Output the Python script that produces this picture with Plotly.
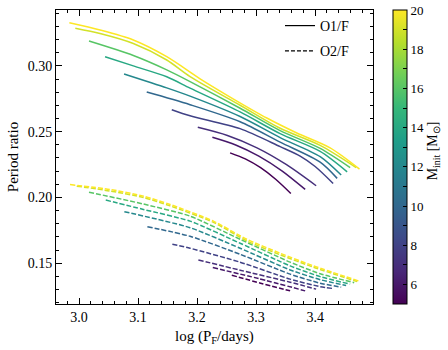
import plotly.graph_objects as go
from plotly.colors import sample_colorscale

# initial masses of the tracks (colour)
masses = [5, 6, 7, 8, 10, 12, 14, 16, 19, 20]

# O1/F period ratio against log P_F, one list per mass (same order as masses)
o1_logp = [
    [3.2559, 3.2817, 3.3076, 3.3331, 3.3588],
    [3.2259, 3.2654, 3.3046, 3.3437, 3.3831],
    [3.2012, 3.2514, 3.3015, 3.3515, 3.4017],
    [3.1571, 3.1881, 3.2729, 3.3407, 3.3746, 3.4000, 3.4305],
    [3.1147, 3.1881, 3.2729, 3.3407, 3.4085, 3.4373],
    [3.0763, 3.1486, 3.1881, 3.2729, 3.3407, 3.4085, 3.4441],
    [3.0441, 3.0920, 3.1486, 3.1881, 3.2729, 3.3407, 3.4085, 3.4542],
    [3.0169, 3.0920, 3.1486, 3.1881, 3.2729, 3.3407, 3.4085, 3.4593],
    [2.9937, 3.0356, 3.0920, 3.1486, 3.1881, 3.2729, 3.3407, 3.4085, 3.4695],
    [2.9836, 3.0356, 3.0920, 3.1486, 3.2051, 3.2610, 3.3181, 3.3690, 3.4254, 3.4751],
]
o1_ratio = [
    [0.2339, 0.2293, 0.2226, 0.2138, 0.2030],
    [0.2457, 0.2399, 0.2314, 0.2202, 0.2061],
    [0.2533, 0.2471, 0.2377, 0.2249, 0.2089],
    [0.2667, 0.2621, 0.2523, 0.2386, 0.2314, 0.2235, 0.2106],
    [0.2801, 0.2705, 0.2575, 0.2420, 0.2268, 0.2145],
    [0.2939, 0.2833, 0.2770, 0.2615, 0.2455, 0.2310, 0.2170],
    [0.3070, 0.3000, 0.2917, 0.2831, 0.2650, 0.2485, 0.2350, 0.2195],
    [0.3189, 0.3079, 0.2970, 0.2881, 0.2678, 0.2508, 0.2373, 0.2227],
    [0.3286, 0.3246, 0.3170, 0.3045, 0.2919, 0.2701, 0.2526, 0.2396, 0.2227],
    [0.3328, 0.3273, 0.3197, 0.3070, 0.2902, 0.2750, 0.2604, 0.2490, 0.2377, 0.2216],
]

# O2/F period ratio against log P_F
o2_logp = [
    [3.2588, 3.3076, 3.3576],
    [3.2266, 3.3046, 3.3831],
    [3.2022, 3.2729, 3.3576, 3.4017],
    [3.1581, 3.1881, 3.2729, 3.3576, 3.4085, 3.4300],
    [3.1158, 3.1881, 3.2729, 3.3576, 3.4085, 3.4441],
    [3.0768, 3.1881, 3.2729, 3.3576, 3.4085, 3.4525],
    [3.0453, 3.1090, 3.1881, 3.2729, 3.3576, 3.4085, 3.4593],
    [3.0169, 3.1090, 3.1881, 3.2729, 3.3576, 3.4085, 3.4661],
    [2.9961, 3.0525, 3.1090, 3.1542, 3.2276, 3.2842, 3.3407, 3.3971, 3.4712],
    [2.9847, 3.0525, 3.1090, 3.1542, 3.2276, 3.2842, 3.3407, 3.3971, 3.4746],
]
o2_ratio = [
    [0.1409, 0.1348, 0.1290],
    [0.1467, 0.1383, 0.1290],
    [0.1525, 0.1447, 0.1356, 0.1303],
    [0.1644, 0.1614, 0.1508, 0.1379, 0.1322, 0.1308],
    [0.1778, 0.1705, 0.1568, 0.1417, 0.1348, 0.1318],
    [0.1892, 0.1770, 0.1614, 0.1449, 0.1375, 0.1330],
    [0.1980, 0.1909, 0.1820, 0.1652, 0.1480, 0.1398, 0.1341],
    [0.2040, 0.1950, 0.1858, 0.1682, 0.1508, 0.1420, 0.1352],
    [0.2086, 0.2049, 0.2000, 0.1936, 0.1811, 0.1670, 0.1564, 0.1470, 0.1360],
    [0.2098, 0.2061, 0.2010, 0.1947, 0.1820, 0.1682, 0.1576, 0.1480, 0.1364],
]

M_MIN, M_MAX = 5, 20
cbar_ticks = list(range(6, 21))
FONT = "Liberation Serif"

fig = go.Figure()

for i, m in enumerate(masses):
    col = sample_colorscale("Viridis", (m - M_MIN) / (M_MAX - M_MIN))[0]
    fig.add_trace(go.Scatter(
        x=o1_logp[i], y=o1_ratio[i], mode="lines",
        line=dict(color=col, width=1.5, shape="spline", smoothing=0.8),
        showlegend=False, hoverinfo="skip"))
    fig.add_trace(go.Scatter(
        x=o2_logp[i], y=o2_ratio[i], mode="lines",
        line=dict(color=col, width=1.5, dash="5px,2px", shape="spline", smoothing=0.6),
        showlegend=False, hoverinfo="skip"))

# legend entries
fig.add_trace(go.Scatter(x=[None], y=[None], mode="lines", name="O1/F", legendgroup="o1",
                         line=dict(color="black", width=1.2)))
fig.add_trace(go.Scatter(x=[None], y=[None], mode="lines", name="O2/F", legendgroup="o2",
                         line=dict(color="black", width=1.2, dash="4px,2px")))

# colour bar carrier
fig.add_trace(go.Scatter(
    x=[None], y=[None], mode="markers", showlegend=False,
    marker=dict(color=[M_MIN, M_MAX], cmin=M_MIN, cmax=M_MAX, colorscale="Viridis",
                showscale=True,
                colorbar=dict(
                    x=1.063, xanchor="left", xpad=0, y=0.5, yanchor="middle", ypad=0,
                    len=1.0, lenmode="fraction", thickness=14,
                    outlinewidth=1, outlinecolor="black",
                    tickmode="array",
                    tickvals=cbar_ticks,
                    ticktext=[str(v) if v % 2 == 0 else "" for v in cbar_ticks],
                    ticks="inside", ticklen=4, tickcolor="black",
                    tickfont=dict(family=FONT, size=13, color="black"),
                ))))

axis_common = dict(
    showline=True, linecolor="black", linewidth=1, mirror="allticks",
    ticks="inside", ticklen=6, tickwidth=1, tickcolor="black",
    showgrid=False, zeroline=False, automargin=False,
    tickfont=dict(family=FONT, size=14, color="black"),
)

fig.update_xaxes(
    range=[2.961, 3.498], tick0=3.0, dtick=0.1, tickformat=".1f",
    minor=dict(dtick=0.02, ticks="inside", ticklen=3, tickcolor="black", showgrid=False),
    **axis_common)
fig.update_yaxes(
    range=[0.119, 0.3425], tick0=0.0, dtick=0.05, tickformat=".2f",
    minor=dict(dtick=0.01, ticks="inside", ticklen=3, tickcolor="black", showgrid=False),
    **axis_common)

title_font = dict(family=FONT, size=15, color="black")
fig.add_annotation(text="log (P<sub>F</sub>/days)", xref="paper", yref="paper",
                   x=0.5, y=-0.112, xanchor="center", yanchor="middle",
                   showarrow=False, font=title_font)
fig.add_annotation(text="Period ratio", xref="paper", yref="paper",
                   x=-0.135, y=0.5, xanchor="center", yanchor="middle", textangle=-90,
                   showarrow=False, font=title_font)
fig.add_annotation(text="M<sub>init</sub> [M<sub>⊙</sub>]", xref="paper", yref="paper",
                   x=1.19, y=0.52, xanchor="center", yanchor="middle", textangle=-90,
                   showarrow=False, font=dict(family=FONT, size=14, color="black"))

fig.update_layout(
    width=448, height=350,
    margin=dict(l=56, r=75, t=10, b=46, autoexpand=False),
    plot_bgcolor="white", paper_bgcolor="white",
    font=dict(family=FONT, size=14, color="black"),
    legend=dict(x=0.94, xanchor="right", y=1.0, yanchor="top",
                bgcolor="rgba(0,0,0,0)", font=dict(family=FONT, size=14),
                itemwidth=30, traceorder="grouped", tracegroupgap=4),
)

# the page body has a default 8px margin; drop it so the figure sits at the corner
fig.write_html("out.html", config={"displayModeBar": False},
               post_script="document.body.style.margin='0px';")
